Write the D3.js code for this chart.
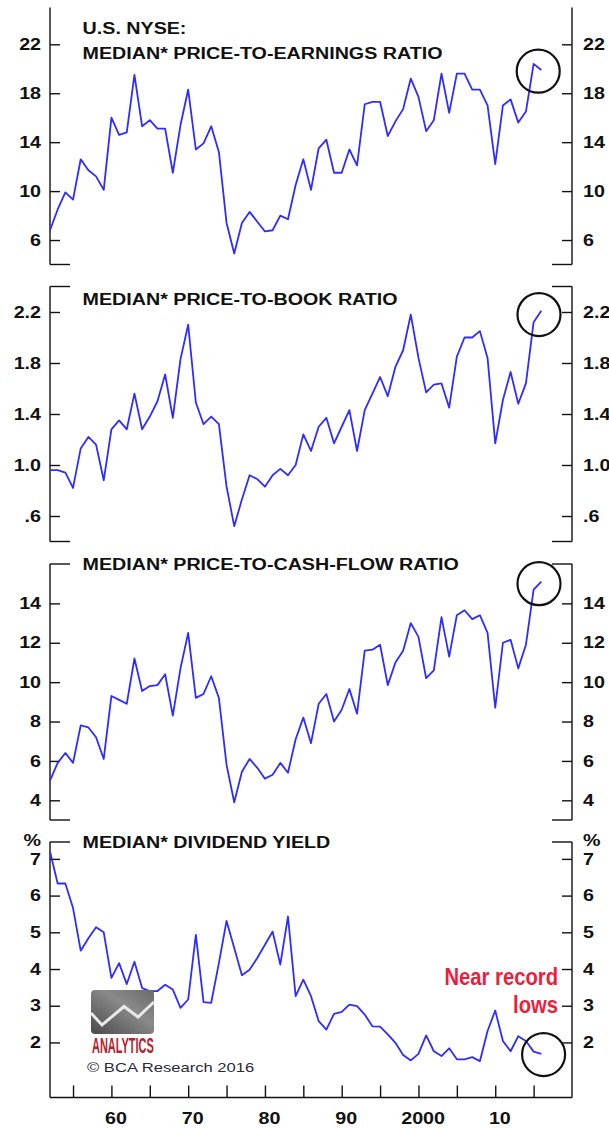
<!DOCTYPE html>
<html>
<head>
<meta charset="utf-8">
<script src="https://cdn.jsdelivr.net/npm/d3@7"></script>
<style>
  body { margin: 0; background: #fff; }
  text { font-family: "Liberation Sans", Arial, sans-serif; }
</style>
</head>
<body>
<div id="chart"></div>
<script>
// annual observations, 1952-2016
const years = d3.range(1952, 2017);

const peRatio = [6.8,8.5,9.9,9.3,12.6,11.7,11.2,10.1,16.0,14.6,
  14.8,19.5,15.3,15.8,15.1,15.1,11.5,15.4,18.3,13.4,
  13.9,15.3,13.2,7.4,4.9,7.4,8.3,7.5,6.7,6.8,
  8.0,7.7,10.5,12.6,10.1,13.5,14.2,11.5,11.5,13.4,
  12.1,17.1,17.3,17.3,14.5,15.7,16.7,19.2,17.7,14.9,
  15.8,19.6,16.4,19.6,19.6,18.3,18.3,17.0,12.2,17.0,
  17.5,15.6,16.5,20.4,19.9];

const pbRatio = [0.96,0.96,0.94,0.82,1.13,1.22,1.16,0.88,1.28,1.35,
  1.28,1.56,1.28,1.38,1.50,1.71,1.37,1.83,2.10,1.49,
  1.32,1.38,1.32,0.83,0.52,0.73,0.92,0.89,0.83,0.92,
  0.97,0.92,1.00,1.24,1.11,1.30,1.37,1.17,1.30,1.43,
  1.11,1.43,1.56,1.69,1.54,1.77,1.90,2.18,1.84,1.57,
  1.63,1.64,1.45,1.85,2.00,2.00,2.05,1.84,1.17,1.51,
  1.73,1.48,1.64,2.12,2.21];

const pcfRatio = [5.0,5.9,6.4,5.9,7.8,7.7,7.2,6.1,9.3,9.1,
  8.9,11.2,9.55,9.8,9.85,10.4,8.3,10.7,12.5,9.2,
  9.4,10.3,9.2,5.8,3.9,5.45,6.1,5.65,5.1,5.3,
  5.9,5.4,7.1,8.2,6.9,8.9,9.4,8.0,8.6,9.65,
  8.4,11.6,11.65,11.9,9.85,11.0,11.6,13.0,12.3,10.2,
  10.6,13.3,11.3,13.4,13.65,13.2,13.4,12.5,8.7,12.0,
  12.15,10.7,11.9,14.7,15.1];

const divYield = [7.2,6.33,6.33,5.66,4.5,4.84,5.14,5.0,3.76,4.16,
  3.59,4.2,3.48,3.4,3.4,3.57,3.44,2.94,3.17,4.93,
  3.1,3.08,4.16,5.31,4.57,3.83,3.98,4.3,4.66,5.02,
  4.12,5.43,3.26,3.71,3.26,2.58,2.35,2.78,2.83,3.03,
  2.99,2.76,2.44,2.43,2.22,1.99,1.66,1.51,1.69,2.19,
  1.76,1.63,1.84,1.54,1.54,1.6,1.49,2.31,2.87,2.04,
  1.76,2.17,2.04,1.75,1.69];

const peTicks = [6, 10, 14, 18, 22];
const pbTicks = [0.6, 1.0, 1.4, 1.8, 2.2];
const pbTickLabels = [".6", "1.0", "1.4", "1.8", "2.2"];
const pcfTicks = [4, 6, 8, 10, 12, 14];
const divTicks = [2, 3, 4, 5, 6, 7];
const xTicks = [1955, 1960, 1965, 1970, 1975, 1980, 1985, 1990, 1995, 2000, 2005, 2010, 2015];
const xLabelYears = [1960, 1970, 1980, 1990, 2000, 2010];
const xLabels = ["60", "70", "80", "90", "2000", "10"];

// circled recent readings: [year, value]
const circles = [[2015.6, 19.8], [2015.7, 2.18], [2015.7, 15.0], [2016.3, 1.67]];

const W = 609, H = 1128;
const sx = 1.23;        // the source lettering is stretched sideways
const left = 50, right = 572;
const blue = "#2f2cff";

const svg = d3.select("#chart").append("svg")
    .attr("width", W).attr("height", H);

const x = d3.scaleLinear().domain([1952, 2020]).range([left, right]);

const panels = [
  {values: peRatio, domain: [4, 25], range: [264.5, 7.6], ticks: peTicks, fmt: d => d,
   title: ["U.S. NYSE:", "MEDIAN* PRICE-TO-EARNINGS RATIO"], titleY: [34, 59], topStub: false},
  {values: pbRatio, domain: [0.4, 2.4], range: [541.5, 286.5], ticks: pbTicks, fmt: (d, i) => pbTickLabels[i],
   title: ["MEDIAN* PRICE-TO-BOOK RATIO"], titleY: [305], topStub: true},
  {values: pcfRatio, domain: [3, 16], range: [820, 564], ticks: pcfTicks, fmt: d => d,
   title: ["MEDIAN* PRICE-TO-CASH-FLOW RATIO"], titleY: [570], topStub: true},
  {values: divYield, domain: [0.5, 7.46], range: [1097.5, 842], ticks: divTicks, fmt: d => d,
   title: ["MEDIAN* DIVIDEND YIELD"], titleY: [848], topStub: true, pct: true}
];

function stretchText(sel, px) {
  sel.selectAll("text")
    .attr("x", px / sx)
    .attr("transform", `scale(${sx},1)`)
    .style("font-size", "16px")
    .style("font-weight", "bold")
    .attr("fill", "#111");
}

panels.forEach((p, k) => {
  const y = d3.scaleLinear().domain(p.domain).range(p.range);
  const g = svg.append("g");
  const top = p.range[1], bottom = p.range[0];

  // frame: side rules plus short stubs
  g.append("line").attr("x1", left).attr("x2", left).attr("y1", top).attr("y2", bottom);
  g.append("line").attr("x1", right).attr("x2", right).attr("y1", top).attr("y2", bottom);
  if (k < 3) {
    g.append("line").attr("x1", left).attr("x2", left + 20).attr("y1", bottom).attr("y2", bottom);
    g.append("line").attr("x1", right - 20).attr("x2", right).attr("y1", bottom).attr("y2", bottom);
  } else {
    g.append("line").attr("x1", left).attr("x2", right).attr("y1", bottom).attr("y2", bottom);
  }
  if (p.topStub) {
    g.append("line").attr("x1", left).attr("x2", left + 20).attr("y1", top).attr("y2", top);
    g.append("line").attr("x1", right - 20).attr("x2", right).attr("y1", top).attr("y2", top);
  }
  g.selectAll("line").attr("stroke", "#111").attr("stroke-width", 1.4);

  const yl = g.append("g").attr("transform", `translate(${left},0)`)
    .call(d3.axisLeft(y).tickValues(p.ticks).tickFormat(p.fmt).tickSize(-10).tickPadding(9));
  const yr = g.append("g").attr("transform", `translate(${right},0)`)
    .call(d3.axisRight(y).tickValues(p.ticks).tickFormat(p.fmt).tickSize(-10).tickPadding(11));
  [yl, yr].forEach(a => {
    a.select(".domain").remove();
    a.selectAll(".tick line").attr("stroke", "#111").attr("stroke-width", 1.4);
  });
  stretchText(yl, -9);
  stretchText(yr, 11);

  if (p.pct) {
    g.append("text").attr("transform", `translate(41,${top + 4}) scale(${sx},1)`)
      .attr("text-anchor", "end").style("font-size", "16px").style("font-weight", "bold")
      .attr("fill", "#111").text("%");
    g.append("text").attr("transform", `translate(583,${top + 4}) scale(${sx},1)`)
      .style("font-size", "16px").style("font-weight", "bold")
      .attr("fill", "#111").text("%");
  }

  p.title.forEach((t, i) => {
    g.append("text").attr("transform", `translate(82.6,${p.titleY[i]}) scale(${sx},1)`)
      .style("font-size", "16px").style("font-weight", "bold")
      .attr("fill", "#111").text(t);
  });

  const line = d3.line().x((d, i) => x(years[i])).y(d => y(d));
  g.append("path").datum(p.values)
    .attr("d", line)
    .attr("fill", "none")
    .attr("stroke", blue)
    .attr("stroke-width", 1.8)
    .attr("stroke-linejoin", "round");

  g.append("circle")
    .attr("cx", x(circles[k][0])).attr("cy", y(circles[k][1])).attr("r", 21.5)
    .attr("fill", "none").attr("stroke", "#111").attr("stroke-width", 2.2);

  if (k === 3) {
    // x axis
    const xa = svg.append("g").attr("transform", `translate(0,${bottom})`)
      .call(d3.axisTop(x).tickValues(xTicks).tickFormat("").tickSize(12).tickSizeOuter(0));
    xa.select(".domain").remove();
    xa.selectAll(".tick line").attr("stroke", "#111").attr("stroke-width", 1.4);

    svg.append("g").selectAll("text").data(xLabelYears).join("text")
      .attr("transform", d => `translate(${x(d + 0.6)},1124) scale(${sx},1)`)
      .attr("text-anchor", "middle")
      .style("font-size", "16px").style("font-weight", "bold").attr("fill", "#111")
      .text((d, i) => xLabels[i]);

    // annotation
    const note = svg.append("g").attr("fill", "#ea1f3d")
      .style("font-family", "'Open Sans', sans-serif").style("font-size", "23px")
      .style("font-weight", "600");
    note.append("text").attr("transform", "translate(558,985) scale(0.88,1)")
      .attr("text-anchor", "end").text("Near record");
    note.append("text").attr("transform", "translate(558,1013) scale(0.88,1)")
      .attr("text-anchor", "end").text("lows");

    // logo
    const grad = svg.append("defs").append("linearGradient").attr("id", "lg")
      .attr("x1", "0").attr("y1", "1").attr("x2", "1").attr("y2", "0");
    grad.append("stop").attr("offset", "0").attr("stop-color", "#4a4a4a");
    grad.append("stop").attr("offset", "0.6").attr("stop-color", "#8a8a8a");
    grad.append("stop").attr("offset", "1").attr("stop-color", "#6a6a6a");
    const logo = svg.append("g");
    logo.append("rect").attr("x", 91).attr("y", 990).attr("width", 63).attr("height", 44)
      .attr("rx", 4).attr("fill", "url(#lg)");
    logo.append("path").attr("d", "M91,1013 L102,1025 L124,1006.5 L138,1017 L154,1002")
      .attr("fill", "none").attr("stroke", "#e8e8e8").attr("stroke-width", 3);
    logo.append("text").attr("transform", `translate(92,1052.5) scale(0.5,1)`)
      .style("font-size", "22px").style("font-weight", "bold").attr("fill", "#b5222c")
      .text("ANALYTICS");
    svg.append("text").attr("transform", `translate(87,1071.5) scale(${sx},1)`)
      .style("font-size", "13.5px").attr("fill", "#2a2a3a")
      .text("\u00A9 BCA Research 2016");
  }
});
</script>
</body>
</html>
